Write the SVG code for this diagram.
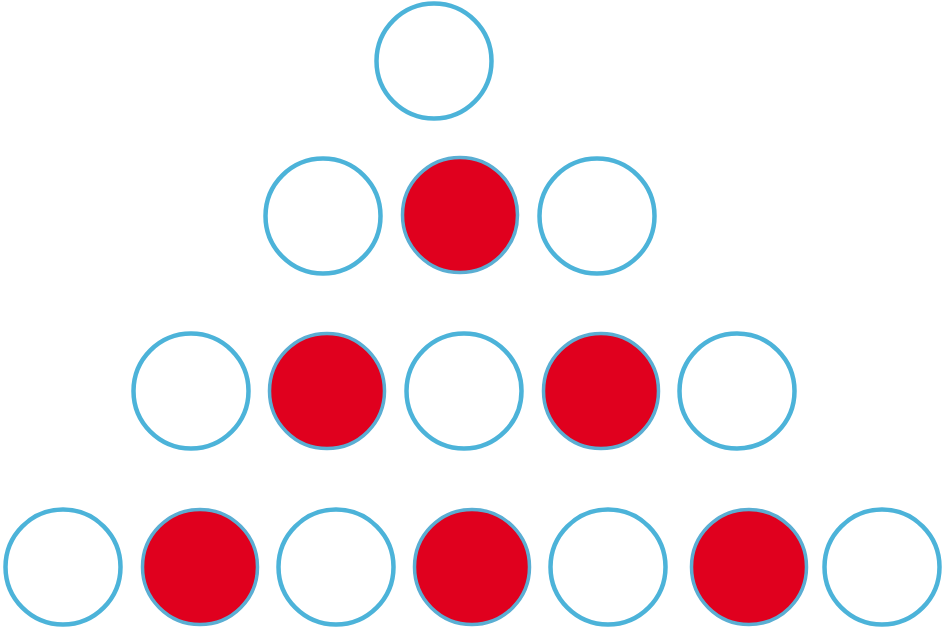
<svg xmlns="http://www.w3.org/2000/svg" width="942" height="635" viewBox="0 0 942 635">
<style>
.e{fill:#ffffff;stroke:#4cb3d9;stroke-width:4.5}
.f{fill:#e0001e;stroke:#5aaed3;stroke-width:3.5}
</style>
<rect width="942" height="635" fill="#ffffff"/>
<g id="r1"><circle class="e" cx="434" cy="61" r="57.5"/></g>
<g id="r2">
<circle class="e" cx="323" cy="216" r="57.5"/>
<circle class="f" cx="460" cy="215" r="57.5"/>
<circle class="e" cx="597" cy="216" r="57.5"/>
</g>
<g id="r3">
<circle class="e" cx="191" cy="391" r="57.5"/>
<circle class="f" cx="327" cy="391" r="57.5"/>
<circle class="e" cx="464" cy="391" r="57.5"/>
<circle class="f" cx="601" cy="391" r="57.5"/>
<circle class="e" cx="737" cy="391" r="57.5"/>
</g>
<g id="r4">
<circle class="e" cx="63" cy="567" r="57.5"/>
<circle class="f" cx="200" cy="567" r="57.5"/>
<circle class="e" cx="336" cy="567" r="57.5"/>
<circle class="f" cx="472" cy="567" r="57.5"/>
<circle class="e" cx="608" cy="567" r="57.5"/>
<circle class="f" cx="749" cy="567" r="57.5"/>
<circle class="e" cx="882" cy="567" r="57.5"/>
</g>
</svg>
